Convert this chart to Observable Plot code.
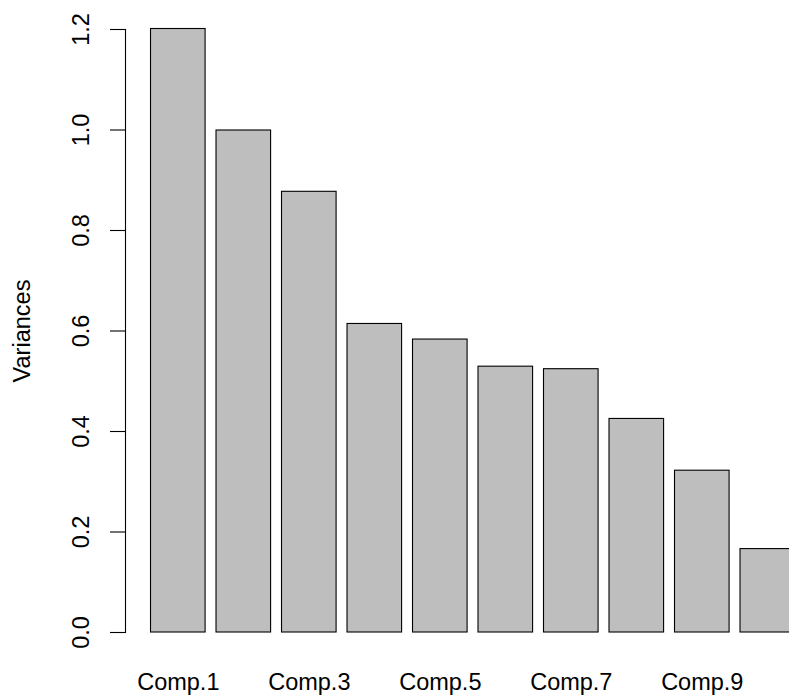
<!DOCTYPE html>
<html>
<head>
<meta charset="utf-8">
<script src="https://cdn.jsdelivr.net/npm/d3@7"></script>
<script src="https://cdn.jsdelivr.net/npm/@observablehq/plot@0.6"></script>
<style>
  html, body { margin: 0; padding: 0; background: white; overflow: hidden; }
  svg { overflow: hidden; }
</style>
</head>
<body>
<div id="chart"></div>
<script>
const components = ["Comp.1","Comp.2","Comp.3","Comp.4","Comp.5","Comp.6","Comp.7","Comp.8","Comp.9","Comp.10"];
const variances = [1.201, 0.999, 0.877, 0.614, 0.583, 0.529, 0.524, 0.425, 0.322, 0.166];
const xTickLabels = ["Comp.1","Comp.3","Comp.5","Comp.7","Comp.9"];
const yTicks = [0, 0.2, 0.4, 0.6, 0.8, 1.0, 1.2];
const yLabel = "Variances";

const data = components.map((c, i) => ({name: c, value: variances[i]}));
const font = "'Liberation Sans', Arial, Helvetica, sans-serif";
const fs = 23.5;

const chart = Plot.plot({
  width: 789,
  height: 696,
  marginLeft: 125,
  marginRight: 0,
  marginTop: 29,
  marginBottom: 64,
  style: {fontFamily: font, background: "white", color: "black"},
  x: {type: "band", domain: components, range: [139.6, 805.5], padding: 1/6, align: 0.5, round: false},
  y: {domain: [0, 1.2]},
  marks: [
    Plot.barY(data, {x: "name", y: "value", fill: "#bebebe", stroke: "black", strokeWidth: 1.1}),
    Plot.frame({anchor: "left", stroke: "black", strokeWidth: 1.1}),
    Plot.axisY({ticks: yTicks, tickSize: 15, tickFormat: () => "", label: null, stroke: "black", strokeWidth: 1.1}),
    Plot.text(yTicks, {y: d => d, text: d => d.toFixed(1), frameAnchor: "left", textAnchor: "middle", dx: -44, rotate: -90, fontSize: fs, fill: "black"}),
    Plot.axisX({ticks: xTickLabels, tickSize: 0, tickPadding: 41, fontSize: fs, label: null, fill: "black"}),
    Plot.text([yLabel], {text: d => d, frameAnchor: "left", textAnchor: "middle", dx: -103, rotate: -90, fontSize: fs, fill: "black"})
  ]
});
document.getElementById("chart").appendChild(chart);
</script>
</body>
</html>
